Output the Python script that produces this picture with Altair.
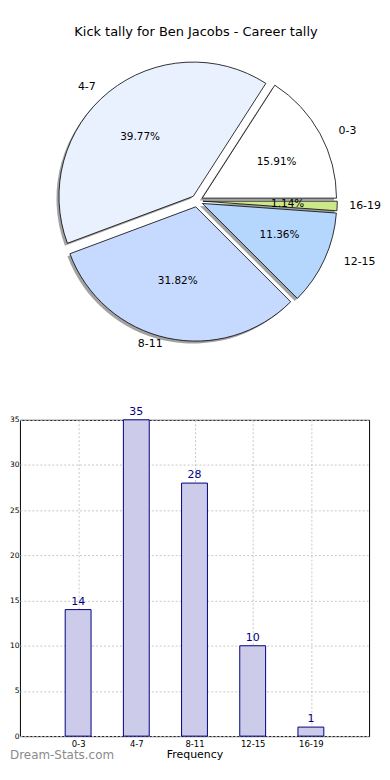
import altair as alt
import pandas as pd

# ---- data ----
categories = ["0-3", "4-7", "8-11", "12-15", "16-19"]
counts = [14, 35, 28, 10, 1]
pie_colors = ["#ffffff", "#eaf1fe", "#c6d9fe", "#b5d7fe", "#cde88b"]
y_ticks = [0, 5, 10, 15, 20, 25, 30, 35]
title_text = "Kick tally for Ben Jacobs - Career tally"
x_title = "Frequency"
watermark = "Dream-Stats.com"

df = pd.DataFrame({"cat": categories, "count": counts, "order": list(range(len(categories)))})

# pie geometry (pixels in the pie panel)
CX, CY, R, EX, SH = 178, 191, 135, 6, 2.5
RX, RY = 142, 128  # label placement follows the reference's slightly oval pie
LX_MAX = 331       # keep the right-hand labels inside the window
FONT = "DejaVu Sans"

pie_base = (
    alt.Chart(df)
    .transform_window(cum="sum(count)", sort=[alt.SortField("order")], frame=[None, 0])
    .transform_joinaggregate(total="sum(count)")
    .transform_calculate(
        a0="2*PI*(datum.cum-datum.count)/datum.total",
        a1="2*PI*datum.cum/datum.total",
    )
    .transform_calculate(
        mid="(datum.a0+datum.a1)/2",
        t1="2.5*PI - datum.a1",
        t2="2.5*PI - datum.a0",
    )
    .transform_calculate(
        cx=f"{CX} + {EX}*cos(datum.mid)",
        cy=f"{CY} - {EX}*sin(datum.mid)",
        pct="format(100*datum.count/datum.total, '.2f') + '%'",
    )
    .transform_calculate(
        sx=f"datum.cx - {SH}",
        sy=f"datum.cy + {SH}",
        lx=f"min({LX_MAX}, datum.cx + {1.1 * RX}*cos(datum.mid))",
        ly=f"datum.cy - {1.1 * RY}*sin(datum.mid)",
        px=f"datum.cx + {0.6 * RX}*cos(datum.mid)",
        py=f"datum.cy - {0.6 * RY}*sin(datum.mid)",
    )
)

shadow = pie_base.mark_arc(radius=R, fill="#555555", opacity=0.55).encode(
    x=alt.X("sx:Q", scale=None, axis=None),
    y=alt.Y("sy:Q", scale=None, axis=None),
    theta=alt.Theta("t1:Q", scale=None),
    theta2="t2:Q",
)

wedges = pie_base.mark_arc(radius=R, stroke="black", strokeWidth=0.8).encode(
    x=alt.X("cx:Q", scale=None, axis=None),
    y=alt.Y("cy:Q", scale=None, axis=None),
    theta=alt.Theta("t1:Q", scale=None),
    theta2="t2:Q",
    fill=alt.Fill("cat:N", scale=alt.Scale(domain=categories, range=pie_colors), legend=None),
)

labels_right = pie_base.transform_filter("cos(datum.mid) >= 0").mark_text(
    align="left", baseline="middle", font=FONT, fontSize=11, color="black"
).encode(
    x=alt.X("lx:Q", scale=None, axis=None),
    y=alt.Y("ly:Q", scale=None, axis=None),
    text="cat:N",
)
labels_left = pie_base.transform_filter("cos(datum.mid) < 0").mark_text(
    align="right", baseline="middle", font=FONT, fontSize=11, color="black"
).encode(
    x=alt.X("lx:Q", scale=None, axis=None),
    y=alt.Y("ly:Q", scale=None, axis=None),
    text="cat:N",
)
pct_labels = pie_base.mark_text(
    align="center", baseline="middle", font=FONT, fontSize=10.5, color="black"
).encode(
    x=alt.X("px:Q", scale=None, axis=None),
    y=alt.Y("py:Q", scale=None, axis=None),
    text="pct:N",
)

title_mark = alt.Chart(pd.DataFrame({"t": [title_text]})).mark_text(
    align="center", baseline="middle", font=FONT, fontSize=13, color="black"
).encode(x=alt.value(177), y=alt.value(21), text="t:N")

pie_panel = alt.layer(shadow, wedges, labels_right, labels_left, pct_labels, title_mark).properties(
    width=351, height=411, view=alt.ViewBackground(stroke="transparent")
)

# ---- bar panel ----
BAR_H = 318
bar_base = alt.Chart(df).encode(
    x=alt.X(
        "cat:N",
        sort=categories,
        scale=alt.Scale(type="point", padding=1),
        axis=alt.Axis(
            title=x_title, labelAngle=0, labelFontSize=8.5, labelFont=FONT, labelColor="black",
            labelPadding=3, titleFont=FONT, titleFontSize=11, titleFontWeight="normal",
            titleColor="black", titlePadding=1, ticks=False, domain=False,
            grid=True, gridDash=[2, 2], gridColor="#c8c8c8",
        ),
    ),
    y=alt.Y(
        "count:Q",
        scale=alt.Scale(domain=[0, 35], nice=False),
        axis=alt.Axis(
            title=None, values=y_ticks, labelFontSize=7.5, labelFont=FONT, labelColor="black",
            labelPadding=1, ticks=False, domain=False,
            grid=True, gridDash=[2, 2], gridColor="#c8c8c8",
        ),
    ),
)

bars = bar_base.mark_bar(width=26, fill="#ccccea", stroke="#000080", strokeWidth=1)
bar_text = bar_base.mark_text(
    baseline="bottom", dy=-3, font=FONT, fontSize=11, color="#000080"
).encode(text="count:Q")

wm = alt.Chart(pd.DataFrame({"t": [watermark]})).mark_text(
    align="left", baseline="middle", font=FONT, fontSize=12, color="#8a8a8a"
).encode(x=alt.value(-10), y=alt.value(BAR_H + 19), text="t:N")

bar_panel = alt.layer(bars, bar_text, wm).properties(width=351, height=BAR_H)

chart = (
    alt.vconcat(pie_panel, bar_panel, spacing=0, bounds="flush")
    .properties(padding={"left": 0, "top": 0, "right": 0, "bottom": 0})
    .configure_view(stroke="black", strokeWidth=1)
)

chart.save("out.html", embed_options={"renderer": "svg", "actions": False})
